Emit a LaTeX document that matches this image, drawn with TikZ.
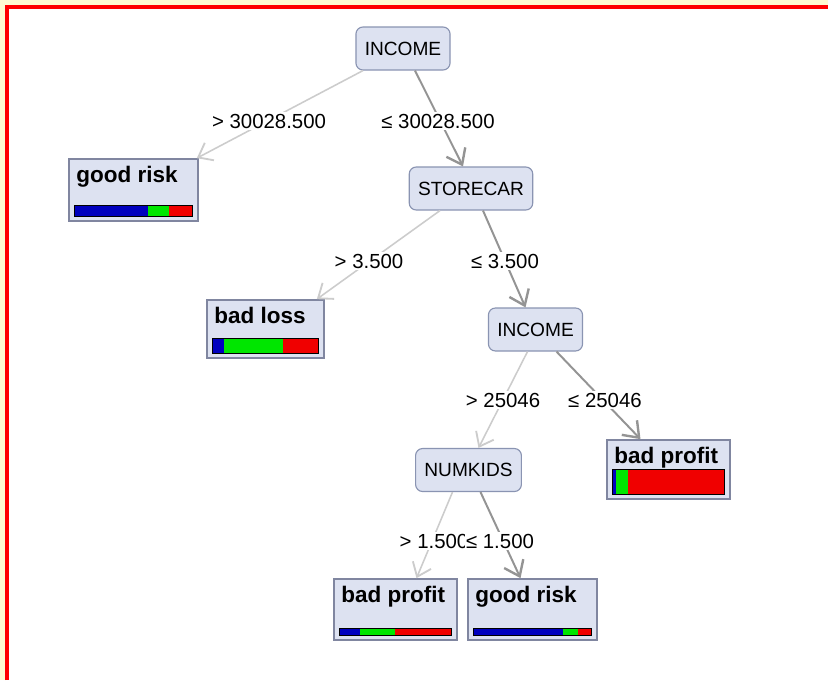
\documentclass[tikz,border=0pt]{standalone}
\usepackage{fontspec}
\setmainfont{Liberation Sans}
\usetikzlibrary{arrows.meta,calc}

\definecolor{nodefill}{RGB}{221,226,241}
\definecolor{nodeline}{RGB}{138,148,178}
\definecolor{leafline}{RGB}{128,134,160}
\definecolor{edgelight}{RGB}{204,204,204}
\definecolor{edgedark}{RGB}{148,148,148}
\definecolor{barblue}{RGB}{0,0,190}
\definecolor{bargreen}{RGB}{0,230,0}
\definecolor{barred}{RGB}{240,0,0}
\definecolor{paper}{RGB}{255,251,210}

% class bar of a leaf: node, bar height, end of blue, end of green
\newcommand{\riskbar}[4]{%
  \coordinate (#1-a) at ($(#1.south west)+(6,-6)$);
  \coordinate (#1-b) at ($(#1.south east)+(-7,-6-#2)$);
  \coordinate (#1-p) at ($(#1-a)!#3!(#1-b)$);
  \coordinate (#1-q) at ($(#1-a)!#4!(#1-b)$);
  \fill[barblue] (#1-a) rectangle (#1-p |- #1-b);
  \fill[bargreen] (#1-p |- #1-a) rectangle (#1-q |- #1-b);
  \fill[barred] (#1-q |- #1-a) rectangle (#1-b);
  \draw[black, line width=0.5] (#1-a) rectangle (#1-b);
}

\begin{document}
\begin{tikzpicture}[x=0.025cm, y=-0.025cm,
  split/.style={draw=nodeline, fill=nodefill, rounded corners=5pt, line width=0.8,
    minimum height=1.075cm, inner xsep=0.22cm, font=\fontsize{13.6}{16}\selectfont},
  leaf/.style={draw=leafline, fill=nodefill, line width=1.2, inner sep=0pt},
  title/.style={anchor=north west, inner sep=0pt, font=\fontsize{16}{19}\bfseries\selectfont},
  cut/.style={fill=white, inner sep=1pt, font=\fontsize{14.5}{17}\selectfont},
  lo/.style={draw=edgelight, line width=1.1, -{Straight Barb[length=9pt,width=14pt,line width=1.3pt]}},
  hi/.style={draw=edgedark, line width=1.4, -{Straight Barb[length=10pt,width=15pt,line width=1.7pt]}}]
\useasboundingbox (0,0) rectangle (828,680);
\fill[paper] (0,0) rectangle (828,680);
\fill[white] (7,7) rectangle (828,680);
\draw[red, line width=0.1cm] (7,680) -- (7,7) -- (828,7);

% splits
\node[split] (inc1) at (403,48.5) {INCOME};
\node[split] (store) at (471,188.5) {STORECAR};
\node[split] (inc2) at (535.5,329.5) {INCOME};
\node[split] (numk) at (468.5,470) {NUMKIDS};

% leaves
\node[leaf, minimum width=3.225cm, minimum height=1.55cm] (risk1) at (133.5,190) {};
\node[title] (risk1t) at ([shift={(8,8)}]risk1.north west) {good risk};
\riskbar{risk1}{11}{0.63}{0.81}
\node[leaf, minimum width=2.925cm, minimum height=1.45cm] (loss) at (265.5,329) {};
\node[title] (losst) at ([shift={(8,8)}]loss.north west) {bad loss};
\riskbar{loss}{15}{0.115}{0.673}
\node[leaf, minimum width=3.075cm, minimum height=1.475cm] (profit1) at (668.5,469.5) {};
\node[title] (profit1t) at ([shift={(8,8)}]profit1.north west) {bad profit};
\riskbar{profit1}{25}{0.036}{0.14}
\node[leaf, minimum width=3.075cm, minimum height=1.525cm] (profit2) at (395.5,609.5) {};
\node[title] (profit2t) at ([shift={(8,8)}]profit2.north west) {bad profit};
\riskbar{profit2}{7}{0.19}{0.5}
\node[leaf, minimum width=3.225cm, minimum height=1.525cm] (risk2) at (532.5,609.5) {};
\node[title] (risk2t) at ([shift={(8,8)}]risk2.north west) {good risk};
\riskbar{risk2}{7}{0.76}{0.89}

% branches
\draw[lo] ([shift={(-40,0)}]inc1.south) -- ([shift={(-2,0)}]risk1.north east);
\draw[hi] ([shift={(12,0)}]inc1.south) -- ([shift={(-8,0)}]store.north);
\draw[lo] ([shift={(-31,0)}]store.south) -- ([shift={(-8,0)}]loss.north east);
\draw[hi] ([shift={(12,0)}]store.south) -- ([shift={(-10,0)}]inc2.north);
\draw[lo] ([shift={(-8,0)}]inc2.south) -- ([shift={(10,0)}]numk.north);
\draw[hi] ([shift={(21,0)}]inc2.south) -- ([shift={(-28,0)}]profit1.north);
\draw[lo] ([shift={(-16,0)}]numk.south) -- ([shift={(21,0)}]profit2.north);
\draw[hi] ([shift={(12,0)}]numk.south) -- ([shift={(-12,0)}]risk2.north);

% split values
\node[cut] (c1) at (269,121) {> 30028.500};
\node[cut] (c2) at (438,121) {≤ 30028.500};
\node[cut] (c3) at (369,261) {> 3.500};
\node[cut] (c4) at (505,261) {≤ 3.500};
\node[cut] (c5) at (503,400) {> 25046};
\node[cut] (c6) at (605,400) {≤ 25046};
\node[cut] (c7) at (434,541) {> 1.500};
\node[cut] (c8) at (500,541) {≤ 1.500};
\end{tikzpicture}
\end{document}
